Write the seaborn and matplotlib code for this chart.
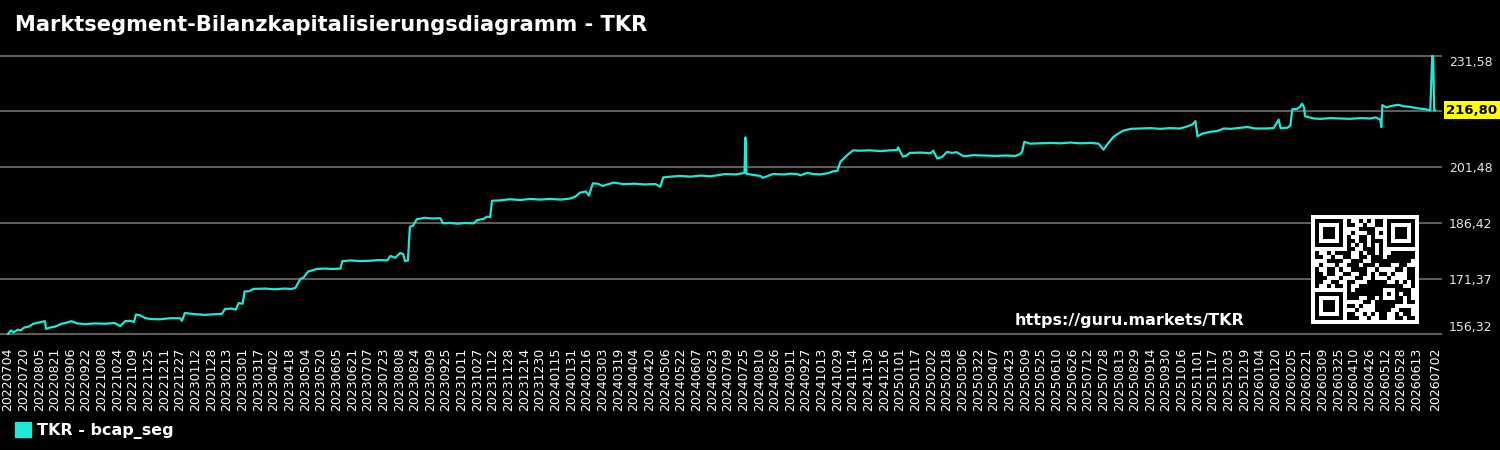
import numpy as np
import pandas as pd
import matplotlib
matplotlib.use('Agg')
import matplotlib.pyplot as plt
import matplotlib.transforms as mtransforms
import seaborn as sns
from matplotlib.patches import Patch

title = 'Marktsegment-Bilanzkapitalisierungsdiagramm - TKR'
series_name = 'TKR - bcap_seg'
url = 'https://guru.markets/TKR'
start = '2022-07-04'
end = '2026-07-02'

# days since start
day_offsets = [
    0, 3, 6, 10, 13, 17, 22, 26, 33, 38, 39, 43, 48, 55, 60, 65, 71, 79, 89, 99,
    109, 115, 120, 125, 129, 131, 135, 140, 145, 155, 166, 176, 178, 181, 191, 201,
    212, 219, 222, 229, 233, 236, 240, 242, 247, 251, 263, 273, 283, 290, 294, 299,
    302, 307, 311, 316, 324, 332, 340, 342, 350, 360, 370, 380, 388, 391, 396, 401,
    404, 406, 409, 411, 414, 418, 426, 434, 442, 445, 452, 460, 467, 476, 480, 486,
    490, 493, 495, 503, 513, 524, 534, 544, 554, 565, 575, 580, 585, 591, 594, 598,
    603, 608, 619, 629, 641, 651, 662, 667, 670, 677, 687, 698, 708, 718, 726, 733,
    744, 751, 753, 754, 755, 761, 769, 772, 782, 793, 800, 807, 810, 817, 824, 830,
    838, 843, 848, 851, 858, 864, 871, 881, 892, 902, 909, 910, 912, 915, 918, 922,
    933, 943, 946, 950, 955, 960, 965, 970, 977, 987, 999, 1009, 1020, 1030, 1035,
    1037, 1039, 1045, 1055, 1066, 1076, 1086, 1096, 1107, 1115, 1120, 1125, 1130,
    1135, 1140, 1148, 1158, 1168, 1178, 1188, 1198, 1205, 1211, 1214, 1216, 1221,
    1229, 1236, 1243, 1250, 1257, 1267, 1275, 1286, 1294, 1299, 1301, 1308, 1311,
    1313, 1318, 1321, 1323, 1325, 1326, 1335, 1342, 1352, 1362, 1372, 1382, 1393,
    1398, 1403, 1404, 1405, 1409, 1413, 1421, 1427, 1434, 1442, 1449, 1454, 1456,
    1457, 1458, 1459,
]
bcap_seg = [
    156.32, 157.4, 156.9, 157.6, 157.4, 158.2, 158.5, 159.2, 159.6, 159.9, 157.8, 158.2,
    158.4, 159.2, 159.5, 159.9, 159.3, 159.1, 159.3, 159.2, 159.4, 158.6, 159.9, 160.0,
    159.7, 161.7, 161.5, 160.8, 160.5, 160.4, 160.7, 160.7, 160.0, 162.1, 161.8, 161.6,
    161.8, 161.9, 163.2, 163.3, 163.0, 164.8, 164.6, 167.9, 168.0, 168.6, 168.7, 168.5,
    168.7, 168.6, 168.9, 171.3, 171.6, 173.3, 173.6, 174.0, 174.1, 174.0, 174.1, 176.1,
    176.3, 176.1, 176.2, 176.4, 176.3, 177.5, 177.0, 178.3, 178.0, 176.1, 176.3, 185.4,
    185.6, 187.4, 187.8, 187.6, 187.7, 186.3, 186.4, 186.2, 186.4, 186.3, 187.2, 187.5,
    188.1, 188.0, 192.4, 192.5, 192.8, 192.6, 192.9, 192.7, 192.9, 192.7, 193.0, 193.5,
    194.6, 194.9, 193.8, 197.1, 197.0, 196.4, 197.3, 196.9, 197.0, 196.8, 196.9, 196.2,
    198.7, 198.9, 199.1, 198.9, 199.2, 199.0, 199.3, 199.6, 199.5, 199.8, 199.9, 209.5,
    199.7, 199.4, 199.1, 198.6, 199.6, 199.5, 199.7, 199.6, 199.25, 199.9, 199.6, 199.5,
    199.8, 200.3, 200.5, 202.9, 204.7, 206.0, 205.9, 206.0, 205.8, 206.0, 206.1, 206.8,
    205.8, 204.3, 204.5, 205.3, 205.4, 205.2, 205.9, 203.8, 204.2, 205.6, 205.3, 205.5,
    204.4, 204.7, 204.6, 204.5, 204.6, 204.5, 205.0, 205.8, 208.3, 207.8, 207.9, 208.0,
    207.9, 208.1, 207.9, 208.0, 207.8, 206.2, 208.0, 209.6, 210.5, 211.3, 211.8, 211.9,
    212.0, 211.8, 212.0, 211.9, 212.4, 213.0, 213.9, 209.8, 210.5, 211.0, 211.2, 211.9,
    211.8, 212.0, 212.3, 211.9, 211.9, 212.0, 214.3, 212.0, 212.1, 212.7, 217.1, 217.2,
    217.8, 218.6, 217.6, 215.2, 214.6, 214.5, 214.7, 214.6, 214.5, 214.7, 214.6, 214.9,
    214.3, 212.3, 218.2, 217.6, 217.9, 218.3, 217.9, 217.7, 217.3, 217.1, 216.8, 231.58,
    231.2, 216.8, 216.80,
]

line_color = '#1ee9d6'

df = pd.DataFrame({
    'date': pd.Timestamp(start) + pd.to_timedelta(day_offsets, unit='D'),
    'value': bcap_seg,
})

sns.set_theme(style='dark', rc={
    'figure.facecolor': 'black',
    'axes.facecolor': 'black',
    'savefig.facecolor': 'black',
})
plt.rcParams['font.family'] = ['DejaVu Sans']

fig = plt.figure(figsize=(15, 4.5), dpi=100)
ax = fig.add_axes([0.0, 115 / 450, 1442 / 1500, 280 / 450])

sns.lineplot(df, x='date', y='value', ax=ax, color=line_color, linewidth=1.6,
             legend=False)

lo, hi = min(bcap_seg), max(bcap_seg)
ax.set_ylim(lo - 0.15, hi + 0.15)
yt = np.linspace(lo, hi, 6)
ylabels = [f'{v:.2f}'.replace('.', ',') for v in yt]
ylabels[4] = ''
ax.set_yticks(yt)
ax.set_yticklabels(ylabels)
ax.yaxis.tick_right()
ax.grid(axis='y', color='#5c5c5c', linewidth=1.5)
ax.grid(axis='x', visible=False)
ylab = ax.get_yticklabels()
ylab[0].set_va('bottom')
ylab[-1].set_va('top')

t0, t1 = pd.Timestamp(start), pd.Timestamp(end)
ticks = list(pd.date_range(t0, t1, freq='16D'))
if (t1 - ticks[-1]).days < 8:
    ticks = ticks[:-1]
ticks.append(t1)
ax.set_xticks(ticks)
ax.set_xticklabels([t.strftime('%Y%m%d') for t in ticks], rotation=90)
ax.set_xlim(t0 - pd.Timedelta(days=8), t1 + pd.Timedelta(days=7))
ax.tick_params(axis='x', length=0, colors='white', labelsize=9, pad=9)
ax.tick_params(axis='y', length=0, colors='#e6e6e6', labelsize=9, pad=5)
ax.set_xlabel('')
ax.set_ylabel('')
for s in ax.spines.values():
    s.set_visible(False)

# last value marker on the right axis
trans = mtransforms.blended_transform_factory(ax.transAxes, ax.transData)
ax.text(1.003, bcap_seg[-1], f'{bcap_seg[-1]:.2f}'.replace('.', ','),
        transform=trans, ha='left', va='center', color='black',
        fontsize=9.5, fontweight='bold',
        bbox=dict(facecolor='yellow', edgecolor='none', pad=1.8))

fig.text(0.01, 0.944, title, color='white', fontsize=15.1, fontweight='bold',
         ha='left', va='center')
fig.text(1015 / 1500, 1 - 320 / 450, url, color='white', fontsize=11.5,
         fontweight='bold', ha='left', va='center')

# qr-style badge
n = 25
bits = np.unpackbits(np.frombuffer((url * 40).encode(), dtype=np.uint8))
qr = np.array([[bits[(i * n + j) * 5 % len(bits)] ^ int((i + j) % 2 == 0)
                for j in range(n)] for i in range(n)])
for r, c in [(0, 0), (0, n - 7), (n - 7, 0)]:
    r0, r1 = max(r - 1, 0), min(r + 8, n)
    c0, c1 = max(c - 1, 0), min(c + 8, n)
    qr[r0:r1, c0:c1] = 0
    qr[r:r + 7, c:c + 7] = 1
    qr[r + 1:r + 6, c + 1:c + 6] = 0
    qr[r + 2:r + 5, c + 2:c + 5] = 1
qr[6, 8:n - 8] = np.arange(n - 16) % 2 == 0
qr[8:n - 8, 6] = np.arange(n - 16) % 2 == 0
qr[16:21, 16:21] = 1
qr[17:20, 17:20] = 0
qr[18, 18] = 1
qr = np.pad(qr, 1)
qax = fig.add_axes([1311 / 1500, 1 - 324 / 450, 108 / 1500, 109 / 450])
qax.imshow(qr, cmap='gray_r', interpolation='nearest', aspect='auto', vmin=0, vmax=1)
qax.axis('off')

leg = ax.legend(handles=[Patch(color=line_color, label=series_name)],
                loc='lower left', bbox_to_anchor=(15 / 1500, 11 / 450),
                bbox_transform=fig.transFigure, frameon=False,
                handlelength=1.0, handleheight=1.0, handletextpad=0.35,
                borderpad=0, borderaxespad=0,
                prop={'weight': 'bold', 'size': 11.5})
for t in leg.get_texts():
    t.set_color('white')

fig.savefig('out.png', dpi=100)
